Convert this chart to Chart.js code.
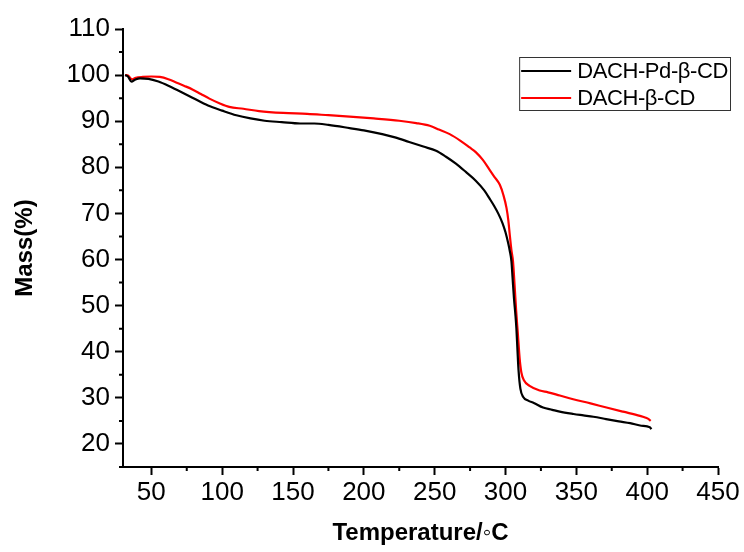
<!DOCTYPE html>
<html lang="en">
<head>
    <meta charset="UTF-8">
    <title>TGA curves</title>
    <script src="https://cdn.jsdelivr.net/npm/chart.js"></script>
    <style>
        body {
            margin: 0;
            background-color: white;
        }
        #chart-container {
            width: 744px;
            height: 552px;
        }
    </style>
</head>
<body>
    <div id="chart-container">
        <canvas id="tga-chart"></canvas>
    </div>

    <script>
        // temperature (°C) and mass (%)
        const pdTemp = [31.5, 33.5, 36, 38.5, 42, 48, 55, 62, 70, 79, 90, 100, 110, 120, 130, 142, 155, 165, 175, 190, 200, 213, 222, 232, 242, 251, 258, 265, 272, 279, 285, 289, 292, 295, 298, 300, 302, 303, 304.2, 305, 306, 307, 307.7, 308.5, 309.2, 310.5, 312.5, 316, 320, 326.5, 333, 338.3, 348, 355, 362, 371, 380, 388, 395, 400, 402, 403];
        const pdMass = [100, 99.7, 98.6, 99.0, 99.3, 99.2, 98.6, 97.7, 96.5, 95.1, 93.4, 92.3, 91.3, 90.6, 90.1, 89.8, 89.5, 89.5, 89.2, 88.5, 88.0, 87.2, 86.5, 85.5, 84.5, 83.6, 82.3, 80.8, 79.0, 77.1, 75.0, 73.1, 71.6, 69.9, 67.8, 65.9, 63.4, 61.9, 59.6, 56, 51.5, 48, 45, 40, 36, 32, 30.2, 29.4, 28.9, 27.9, 27.4, 27.0, 26.5, 26.2, 25.9, 25.4, 24.9, 24.5, 24.0, 23.8, 23.6, 23.2];

        const cdTemp = [31.5, 33.5, 36.5, 39, 44, 50, 56, 62, 67.5, 73, 79, 85, 91, 98, 105, 115, 126, 143, 160, 175, 190, 207, 225, 237, 246.5, 253, 260.6, 268, 274.7, 279, 284, 288.9, 292, 296, 298.5, 300.7, 302, 303, 304.2, 305.3, 306.5, 307.5, 308.7, 310, 311.2, 313, 317, 324.2, 330, 338.3, 347.8, 360, 371.3, 383, 394.9, 399, 401.5, 402.5];
        const cdMass = [100, 99.9, 99.1, 99.4, 99.6, 99.7, 99.6, 99.1, 98.4, 97.7, 96.9, 95.9, 94.9, 93.9, 93.1, 92.7, 92.2, 91.8, 91.6, 91.3, 91.0, 90.6, 90.1, 89.6, 89.0, 88.2, 87.2, 85.8, 84.3, 83.3, 81.6, 79.4, 78.0, 76.2, 74, 71.2, 68.5, 65.4, 62, 59.6, 54, 49, 44, 38.5, 35.5, 33.8, 32.6, 31.6, 31.2, 30.5, 29.7, 28.8, 27.9, 27.0, 26.1, 25.7, 25.3, 25.0];

        const seriesNames = ['DACH-Pd-\u03b2-CD', 'DACH-\u03b2-CD'];
        const xTicks = [50, 100, 150, 200, 250, 300, 350, 400, 450];
        const yTicks = [20, 30, 40, 50, 60, 70, 80, 90, 100, 110];
        const xMinor = [75, 125, 175, 225, 275, 325, 375, 425];
        const yMinor = [15, 25, 35, 45, 55, 65, 75, 85, 95, 105];

        const fontFamily = '"Liberation Sans", Arial, sans-serif';

        function toPoints(xs, ys) {
            return xs.map((x, i) => ({ x: x, y: ys[i] }));
        }

        // short ticks half way between the labelled ones
        const minorTicks = {
            id: 'minorTicks',
            afterDraw(chart) {
                const { ctx, scales: { x, y } } = chart;
                ctx.save();
                ctx.strokeStyle = '#000';
                ctx.lineWidth = 2;
                ctx.beginPath();
                xMinor.forEach(v => {
                    const px = x.getPixelForValue(v);
                    ctx.moveTo(px, x.top);
                    ctx.lineTo(px, x.top + 4);
                });
                yMinor.forEach(v => {
                    const py = y.getPixelForValue(v);
                    ctx.moveTo(y.right, py);
                    ctx.lineTo(y.right - 4, py);
                });
                ctx.stroke();
                ctx.restore();
            }
        };

        // boxed legend sitting in the upper right of the plot
        const boxLegend = {
            id: 'boxLegend',
            afterDraw(chart) {
                const { ctx, chartArea } = chart;
                const sets = chart.data.datasets;
                ctx.save();
                ctx.font = '22px ' + fontFamily;
                ctx.letterSpacing = '-0.4px';
                const textW = Math.max(...sets.map(d => ctx.measureText(d.label).width));
                const right = chartArea.right + 12;
                const top = chartArea.top + 28;
                const lineLen = 50;
                const left = right - textW - 2 - 6 - lineLen - 2;
                const rowH = 27;
                ctx.strokeStyle = '#333';
                ctx.lineWidth = 1;
                ctx.strokeRect(left + 0.5, top + 0.5, right - left, 53);
                ctx.textBaseline = 'middle';
                ctx.fillStyle = '#000';
                sets.forEach((d, i) => {
                    const cy = top + 14 + i * rowH;
                    ctx.strokeStyle = d.borderColor;
                    ctx.lineWidth = 2;
                    ctx.beginPath();
                    ctx.moveTo(left + 2, cy);
                    ctx.lineTo(left + 2 + lineLen, cy);
                    ctx.stroke();
                    ctx.fillText(d.label, left + 2 + lineLen + 6, cy + 1);
                });
                ctx.restore();
            }
        };

        const ctx = document.getElementById('tga-chart').getContext('2d');
        const chart = new Chart(ctx, {
            type: 'line',
            data: {
                datasets: [{
                    label: seriesNames[0],
                    data: toPoints(pdTemp, pdMass),
                    borderColor: '#000000',
                    borderWidth: 2.2,
                    pointRadius: 0,
                    cubicInterpolationMode: 'monotone',
                    fill: false
                }, {
                    label: seriesNames[1],
                    data: toPoints(cdTemp, cdMass),
                    borderColor: '#ff0000',
                    borderWidth: 2.2,
                    pointRadius: 0,
                    cubicInterpolationMode: 'monotone',
                    fill: false
                }]
            },
            options: {
                responsive: true,
                maintainAspectRatio: false,
                animation: false,
                layout: {
                    padding: { top: 29, right: 26, bottom: 0, left: 0 }
                },
                plugins: {
                    legend: { display: false },
                    tooltip: { enabled: false }
                },
                scales: {
                    x: {
                        type: 'linear',
                        min: 30,
                        max: 450,
                        afterBuildTicks: s => { s.ticks = xTicks.map(v => ({ value: v })); },
                        afterFit: s => { s.height = 85; },
                        grid: {
                            drawOnChartArea: false,
                            tickLength: 8,
                            tickWidth: 2,
                            tickColor: '#000'
                        },
                        border: { display: true, color: '#000', width: 2 },
                        ticks: {
                            color: '#000',
                            font: { family: fontFamily, size: 26 },
                            padding: 2,
                            maxRotation: 0,
                            autoSkip: false
                        },
                        title: {
                            display: true,
                            text: 'Temperature/\u25e6C',
                            color: '#000',
                            font: { family: fontFamily, size: 24, weight: 'bold' },
                            padding: { top: 0, bottom: 4 }
                        }
                    },
                    y: {
                        min: 15,
                        max: 110,
                        afterBuildTicks: s => { s.ticks = yTicks.map(v => ({ value: v })); },
                        afterFit: s => { s.width = 123; },
                        grid: {
                            drawOnChartArea: false,
                            tickLength: 8,
                            tickWidth: 2,
                            tickColor: '#000'
                        },
                        border: { display: true, color: '#000', width: 2 },
                        ticks: {
                            color: '#000',
                            font: { family: fontFamily, size: 26 },
                            padding: 5
                        },
                        title: {
                            display: true,
                            text: 'Mass(%)',
                            color: '#000',
                            font: { family: fontFamily, size: 24, weight: 'bold' },
                            padding: { top: 11, bottom: 0 }
                        }
                    }
                }
            },
            plugins: [minorTicks, boxLegend]
        });
    </script>
</body>
</html>
